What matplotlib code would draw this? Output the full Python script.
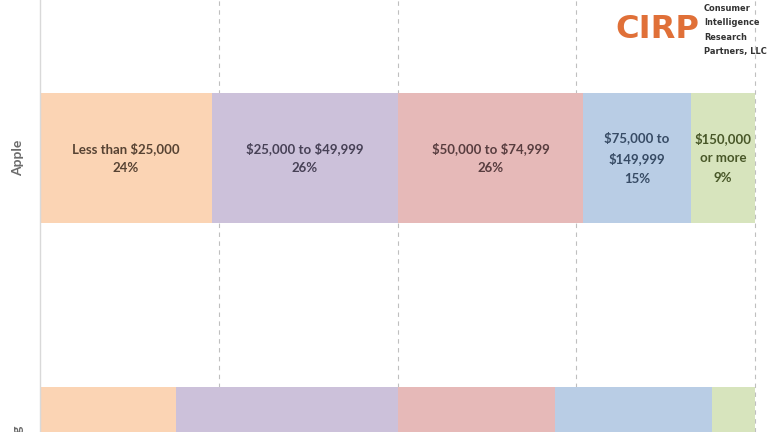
import matplotlib
matplotlib.use("Agg")
import matplotlib.pyplot as plt
import matplotlib.transforms as mtransforms

plt.rcParams["text.parse_math"] = False

brands = ["Samsung", "Apple"]
brackets = ["Less than $25,000", "$25,000 to $49,999", "$50,000 to $74,999",
            "$75,000 to\n$149,999", "$150,000\nor more"]
apple = [24, 26, 26, 15, 9]
samsung = [19, 31, 22, 22, 6]
values = {"Samsung": samsung, "Apple": apple}

fills = ["#FBD4B4", "#CCC1DA", "#E6B9B8", "#B9CDE5", "#D7E4BD"]
text_colors = ["#574333", "#474156", "#583D3F", "#374B65", "#485728"]

fig = plt.figure(figsize=(7.68, 4.32), dpi=100)
ax = fig.add_axes([40 / 768, 0, 728 / 768, 1])

ypos = {"Samsung": 0, "Apple": 1}
for b in brands:
    left = 0
    for i, v in enumerate(values[b]):
        ax.barh(ypos[b], v, left=left, height=0.442, color=fills[i],
                edgecolor="none", zorder=2)
        if b == "Apple":
            ax.text(left + v / 2, ypos[b], f"{brackets[i]}\n{v}%",
                    ha="center", va="center", fontsize=9.5, fontweight="bold",
                    family="Lato", color=text_colors[i], linespacing=1.75,
                    zorder=3)
        left += v

ax.set_xticks([25, 50, 75, 100])
ax.xaxis.grid(True, linestyle=(0, (4, 4)), color="#BFBFBF", linewidth=0.8, zorder=1)
ax.set_yticks([])
ax.set_xlim(0, 728 / 7.15)
ax.set_ylim(0.068, 1.537)
ax.tick_params(axis="x", length=0, labelbottom=False)
for s in ["top", "right", "bottom"]:
    ax.spines[s].set_visible(False)
ax.spines["left"].set_color("#D9D9D9")
ax.spines["left"].set_linewidth(1)

# category labels (rotated, left of the axis)
trans = mtransforms.blended_transform_factory(fig.transFigure, ax.transData)
for b in brands:
    ax.text(18 / 768, ypos[b], b, transform=trans, rotation=90,
            ha="center", va="center", fontsize=10, color="#6B6B6B",
            family="Lato", fontweight="bold", clip_on=False)

# logo
logo = fig.text(699 / 768, 1 - 30 / 432, "CIRP", ha="right", va="center",
                fontsize=30, fontweight="bold", color="#E07038",
                family="DejaVu Sans")
sub = fig.text(704 / 768, 1 - 30 / 432,
               "Consumer\nIntelligence\nResearch\nPartners, LLC",
               ha="left", va="center", fontsize=8, fontweight="bold",
               color="#333333", family="DejaVu Sans", linespacing=1.0)

fig.canvas.draw()
r = fig.canvas.get_renderer()
w = logo.get_window_extent(r).width
if w > 84:
    logo.set_fontsize(30 * 84 / w)
w2 = sub.get_window_extent(r).width
if w2 > 62:
    fs = 8 * 62 / w2
    sub.set_fontsize(fs)
    sub.set_linespacing(1.3 * 8 / fs)

fig.savefig("out.png", dpi=100)
